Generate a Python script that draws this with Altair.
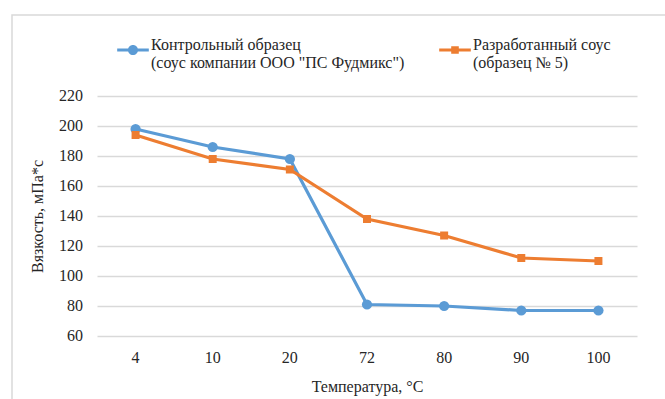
import altair as alt
import pandas as pd

# Viscosity of two sauces measured at several temperatures
temperatures = ["4", "10", "20", "72", "80", "90", "100"]
control_label = "Контрольный образец|(соус компании ООО \"ПС Фудмикс\")"
developed_label = "Разработанный соус|(образец № 5)"
control_values = [198, 186, 178, 81, 80, 77, 77]
developed_values = [194, 178, 171, 138, 127, 112, 110]
y_ticks = [60, 80, 100, 120, 140, 160, 180, 200, 220]

series_names = [control_label, developed_label]
series_colors = ["#5B9BD5", "#ED7D31"]

rows = []
for name, values in zip(series_names, [control_values, developed_values]):
    for t, v in zip(temperatures, values):
        rows.append({"temp": t, "visc": v, "series": name})
df = pd.DataFrame(rows)

FONT = "Liberation Serif"
TEXT = "#262626"

# Legend symbols: a short line with the series marker on top
circle_sym = ("M-1,-0.09H1V0.09H-1Z "
              "M-0.32,0A0.32,0.32 0 1,1 0.32,0A0.32,0.32 0 1,1 -0.32,0Z")
square_sym = "M-1,-0.09H1V0.09H-1Z M-0.24,-0.24H0.24V0.24H-0.24Z"

legend = alt.Legend(
    title=None, orient="none", direction="horizontal",
    legendX=20, legendY=-62, symbolSize=1000, columnPadding=34,
    labelLimit=400, labelExpr="split(datum.label, '|')",
    labelFont=FONT, labelFontSize=16, labelColor=TEXT, labelOffset=2,
    labelBaseline="alphabetic", symbolStrokeWidth=0, symbolOpacity=1,
)

# Axis labels are drawn as text marks below; the axes keep their layout
x_enc = alt.X(
    "temp:N", sort=temperatures,
    scale=alt.Scale(paddingInner=1, paddingOuter=0.5),
    axis=alt.Axis(title="Температура,  °C", labelAngle=0, ticks=False,
                  domain=False, grid=False, labelPadding=14, titlePadding=12,
                  labelFont=FONT, titleFont=FONT, labelOpacity=0),
)
y_enc = alt.Y(
    "visc:Q", scale=alt.Scale(domain=[60, 220], nice=False, zero=False),
    axis=alt.Axis(title="Вязкость, мПа*с", values=y_ticks,
                  ticks=False, domain=False, labelPadding=14,
                  titlePadding=14, gridColor="#D9D9D9", gridWidth=1.3,
                  labelFont=FONT, titleFont=FONT, labelOpacity=0),
)
color_scale = alt.Scale(domain=series_names, range=series_colors)


def color_enc(lg=None):
    if lg is None:
        return alt.Color("series:N", sort=series_names, scale=color_scale, legend=None)
    return alt.Color("series:N", sort=series_names, scale=color_scale, legend=lg)


base = alt.Chart(df).encode(x=x_enc, y=y_enc)

lines = base.mark_line(strokeWidth=3.2).encode(color=color_enc())
points = base.mark_point(filled=True, opacity=1).encode(
    color=color_enc(),
    shape=alt.Shape("series:N", sort=series_names,
                    scale=alt.Scale(domain=series_names, range=["circle", "square"]),
                    legend=None),
    size=alt.Size("series:N", sort=series_names,
                  scale=alt.Scale(domain=series_names, range=[105, 64]),
                  legend=None),
)
# Legend-only layer: line-and-marker symbols, no marks of its own
key = base.mark_point(filled=True, opacity=1).encode(
    color=color_enc(legend),
    shape=alt.Shape("series:N", sort=series_names,
                    scale=alt.Scale(domain=series_names, range=[circle_sym, square_sym]),
                    legend=legend),
).transform_filter("false")

# Tick labels in a serif face
x_labels = alt.Chart(pd.DataFrame({"temp": temperatures})).mark_text(
    font=FONT, fontSize=16, color=TEXT, baseline="middle", align="center"
).encode(x=x_enc, y=alt.value(262), text="temp:N")
y_labels = alt.Chart(pd.DataFrame({"visc": y_ticks})).mark_text(
    font=FONT, fontSize=16, color=TEXT, baseline="middle", align="right"
).encode(y=y_enc, x=alt.value(-14), text="visc:Q")

# Outer frame of the chart area
frame = alt.Chart(alt.Data(values=[{"f": 1}])).mark_rect(
    fill=None, stroke="#D9D9D9", strokeWidth=1.5
).encode(
    x=alt.value(-85), x2=alt.value(600),
    y=alt.value(-81), y2=alt.value(340),
)

chart = alt.layer(frame, lines, points, key, x_labels, y_labels).resolve_scale(
    shape="independent", color="independent", size="independent"
).properties(
    width=540, height=240,
    autosize=alt.AutoSizeParams(type="none"),
    padding={"left": 97, "top": 96, "right": 28, "bottom": 63},
    background="white",
).configure(
    font=FONT,
    style={
        "guide-label": {"font": FONT, "fontSize": 16, "fill": TEXT},
        "guide-title": {"font": FONT, "fontSize": 16, "fill": TEXT},
    },
).configure_view(stroke=None).configure_axis(
    labelFont=FONT, labelFontSize=16, labelColor=TEXT,
    titleFont=FONT, titleFontSize=16, titleColor=TEXT, titleFontWeight="normal",
).configure_legend(labelFont=FONT)

chart.save("out.html", embed_options={"renderer": "svg", "actions": False})
